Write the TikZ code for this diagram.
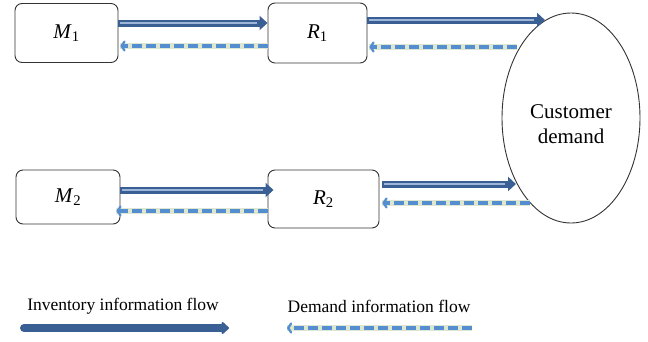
\documentclass[tikz,border=0pt]{standalone}
\usepackage{fontspec}
\setmainfont{Liberation Serif}
\usetikzlibrary{arrows.meta,shapes.geometric}
\definecolor{invdark}{HTML}{3A5F95}
\definecolor{invlight}{HTML}{9DB5D8}
\definecolor{demblue}{HTML}{548DD0}
\definecolor{demhalo}{HTML}{DCE6D0}
\definecolor{boxline}{HTML}{333333}
\tikzset{
  box/.style={draw=boxline, line width=0.9pt, rounded corners=7pt, inner sep=0pt},
  lbl/.style={font=\fontsize{21}{25}\selectfont},
  leg/.style={font=\fontsize{17.5}{21}\selectfont},
  invflow/.style={draw=invdark, line width=7pt, -{Triangle[length=8pt,width=14pt]},
    postaction={draw=invlight, line width=1.5pt, -, shorten >=11pt, shorten <=2pt}},
  invleg/.style={draw=invdark, line width=8pt, line cap=round, -{Triangle[length=8pt,width=14pt,round]}},
  demflow/.style={-{Straight Barb[length=3pt,width=9pt,line width=2.2pt,round]}, draw=demblue, line width=3.6pt, dash pattern=on 10pt off 4pt,
    preaction={draw=demhalo, line width=6pt, solid, -}},
}
\begin{document}
\begin{tikzpicture}[x=1pt,y=-1pt]
\useasboundingbox (0,0) rectangle (648,341);
\node[box, minimum width=103pt, minimum height=59pt, lbl] (M1) at (66.5,33) {\textit{M}\textsubscript{1}};
\node[box, minimum width=99pt, minimum height=60pt, lbl] (R1) at (317.5,33) {\textit{R}\textsubscript{1}};
\node[box, minimum width=104pt, minimum height=54pt, lbl] (M2) at (68,197) {\textit{M}\textsubscript{2}};
\node[box, minimum width=111pt, minimum height=58pt, lbl] (R2) at (323.5,199) {\textit{R}\textsubscript{2}};
\node[draw=boxline, line width=0.9pt, ellipse, minimum width=138pt, minimum height=210pt, inner sep=0pt,
  lbl, align=center] (C) at (571,118) {\\[2pt]Customer\\demand};
% border points on the ellipse
\coordinate (c1) at (545,20);
\coordinate (c2) at (517,47);
\coordinate (c3) at (516,184);
\coordinate (c4) at (530,203);
\draw[invflow] ([yshift=10pt]M1.east) -- ([yshift=10pt]R1.west);
\draw[demflow] ([yshift=-13pt]R1.west) -- ([yshift=-13pt,xshift=2pt]M1.east);
\draw[invflow] ([yshift=13pt]R1.east) -- (c1);
\draw[demflow] (c2) -- ([yshift=-14pt,xshift=2pt]R1.east);
\draw[invflow] ([yshift=7pt]M2.east) -- ([yshift=9pt,xshift=6pt]R2.west);
\draw[demflow] ([yshift=-12pt]R2.west) -- ([yshift=-14pt,xshift=-4pt]M2.east);
\draw[invflow] ([yshift=15pt,xshift=3pt]R2.east) -- (c3);
\draw[demflow] (c4) -- ([yshift=-4pt,xshift=3pt]R2.east);
% legend
\node[leg] (L1) at (123,306) {Inventory information flow};
\node[leg] (L2) at (379,306) {Demand information flow};
\coordinate (a1) at (24,328);
\coordinate (a2) at (229,328);
\coordinate (b1) at (472,328);
\coordinate (b2) at (287,328);
\draw[invleg] (a1) -- (a2);
\draw[demflow] (b1) -- (b2);
\end{tikzpicture}
\end{document}
